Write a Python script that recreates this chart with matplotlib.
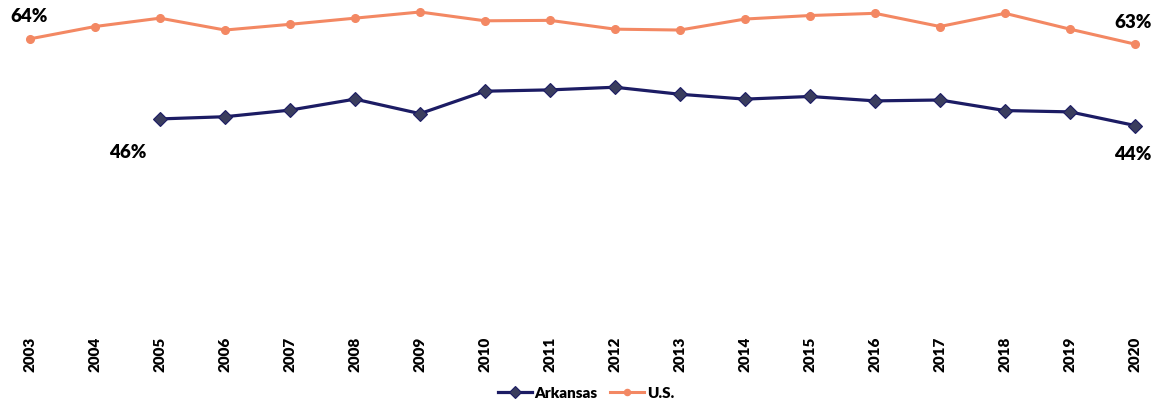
import matplotlib
matplotlib.use("Agg")
import matplotlib.pyplot as plt

plt.rcParams['font.family'] = ['Lato', 'DejaVu Sans']

years = list(range(2003, 2021))
us = [63.9, 66.7, 68.6, 65.9, 67.2, 68.6, 70.0, 68.0, 68.1, 66.1, 65.9, 68.4,
      69.2, 69.7, 66.7, 69.7, 66.1, 62.7]
ark_years = list(range(2005, 2021))
arkansas = [45.7, 46.2, 47.7, 50.2, 46.9, 52.0, 52.3, 52.9, 51.3, 50.2, 50.8,
            49.8, 50.0, 47.6, 47.3, 44.2]

fig = plt.figure(figsize=(11.63, 4.01), dpi=100)
ax = fig.add_axes([0, 81 / 401, 1, 320 / 401])

ax.plot(ark_years, arkansas, color='#1c1c64', lw=2.3, marker='D', ms=7.5,
        mfc='#3a3d5e', mec='#1c1c64', mew=0.8, label='Arkansas', clip_on=False)
ax.plot(years, us, color='#f38863', lw=2.2, marker='o', ms=5.5,
        mfc='#f38863', mec='#f38863', label='U.S.', clip_on=False)

ax.set_xlim(2003 - 30 / 65, 2020 + 28 / 65)
ax.set_ylim(0, 320 / 4.4)
ax.set_xticks(years)
ax.set_xticklabels([str(y) for y in years], rotation=90, fontsize=11,
                   fontweight='heavy')
ax.tick_params(axis='x', length=0, pad=12)
ax.set_yticks([])
for s in ax.spines.values():
    s.set_visible(False)

lab = dict(textcoords='offset pixels', ha='center', va='center',
           fontsize=13.5, fontweight='heavy')
ax.annotate('64%', (years[0], us[0]), xytext=(-1, 22), **lab)
ax.annotate('63%', (years[-1], us[-1]), xytext=(-2, 22), **lab)
ax.annotate('46%', (ark_years[0], arkansas[0]), xytext=(-32, -34), **lab)
ax.annotate('44%', (ark_years[-1], arkansas[-1]), xytext=(-2, -29), **lab)

leg = fig.legend(loc='center', bbox_to_anchor=(586 / 1163, 1 - 393 / 401),
                 ncol=2, frameon=False, prop={'size': 11, 'weight': 'heavy'},
                 handlelength=2.2, columnspacing=0.8, handletextpad=0.2,
                 markerscale=0.8)

fig.savefig('out.png', dpi=100)
